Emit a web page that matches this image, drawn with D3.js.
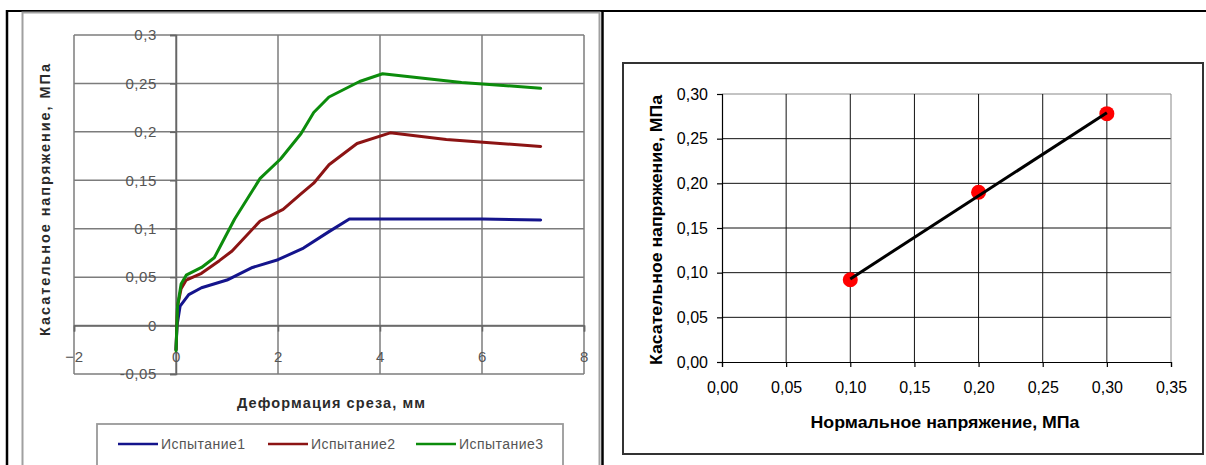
<!DOCTYPE html>
<html lang="ru">
<head>
<meta charset="utf-8">
<title>Испытание на срез</title>
<script src="https://d3js.org/d3.v7.min.js"></script>
<style>
  body { margin: 0; background: #fff; }
  svg { display: block; font-family: "Liberation Sans", Arial, sans-serif; }
</style>
</head>
<body>
<svg id="chart" width="1206" height="465"></svg>
<script>

// left chart: shear stress vs shear deformation, three tests
var test1X = [0, 0.02, 0.08, 0.25, 0.5, 1.0, 1.5, 2.0, 2.5, 3.0, 3.4, 4.0, 5.0, 6.0, 7.15];
var test1Y = [-0.025, 0.0, 0.02, 0.032, 0.039, 0.047, 0.06, 0.068, 0.08, 0.097, 0.11, 0.11, 0.11, 0.11, 0.109];

var test2X = [0, 0.03, 0.1, 0.2, 0.5, 0.85, 1.1, 1.65, 2.1, 2.45, 2.7, 3.0, 3.55, 4.2, 5.3, 7.15];
var test2Y = [-0.025, 0.02, 0.038, 0.047, 0.054, 0.067, 0.077, 0.108, 0.12, 0.136, 0.147, 0.166, 0.188, 0.199, 0.192, 0.185];

var test3X = [0, 0.03, 0.1, 0.2, 0.5, 0.75, 1.0, 1.15, 1.65, 2.05, 2.45, 2.7, 3.0, 3.6, 4.05, 5.6, 7.15];
var test3Y = [-0.026, 0.02, 0.043, 0.052, 0.06, 0.07, 0.095, 0.11, 0.152, 0.172, 0.198, 0.22, 0.236, 0.252, 0.26, 0.251, 0.245];

var seriesNames = ["Испытание1", "Испытание2", "Испытание3"];
var seriesColors = ["#14148c", "#8c1414", "#0c8c0c"];

var leftXTicks = [-2, 0, 2, 4, 6, 8];
var leftYTicks = [-0.05, 0, 0.05, 0.1, 0.15, 0.2, 0.25, 0.3];
var leftYLabels = ["-0,05", "0", "0,05", "0,1", "0,15", "0,2", "0,25", "0,3"];

// right chart: shear stress vs normal stress
var normalStress = [0.1, 0.2, 0.3];
var shearStress = [0.092, 0.19, 0.278];
var trendX = [0.1, 0.3];
var trendY = [0.093, 0.279];

var rightXTicks = [0, 0.05, 0.1, 0.15, 0.2, 0.25, 0.3, 0.35];
var rightYTicks = [0, 0.05, 0.1, 0.15, 0.2, 0.25, 0.3];

var svg = d3.select("#chart");

// ---- frame of the table
svg.append("line").attr("x1", 6).attr("x2", 1206).attr("y1", 11).attr("y2", 11)
  .attr("stroke", "#000").attr("stroke-width", 2);
svg.append("line").attr("x1", 7).attr("x2", 7).attr("y1", 10).attr("y2", 465)
  .attr("stroke", "#000").attr("stroke-width", 2.5);
svg.append("line").attr("x1", 602.5).attr("x2", 602.5).attr("y1", 10).attr("y2", 465)
  .attr("stroke", "#000").attr("stroke-width", 2.5);

// ================= LEFT CHART =================
var L = svg.append("g");

L.append("rect").attr("x", 22.5).attr("y", 12.5).attr("width", 577).attr("height", 470)
  .attr("fill", "none").attr("stroke", "#a0a0a0").attr("stroke-width", 2);

var xL = d3.scaleLinear().domain([-2, 8]).range([74, 584]);
var yL = d3.scaleLinear().domain([-0.05, 0.3]).range([374, 35]);

var gridCol = "#7c7c7c";

// gridlines
L.append("g").selectAll("line").data(leftYTicks).enter().append("line")
  .attr("x1", xL(-2)).attr("x2", xL(8))
  .attr("y1", function(d){ return yL(d) }).attr("y2", function(d){ return yL(d) })
  .attr("stroke", gridCol).attr("stroke-width", 1.5);
L.append("g").selectAll("line").data(leftXTicks).enter().append("line")
  .attr("y1", yL(-0.05)).attr("y2", yL(0.3))
  .attr("x1", function(d){ return xL(d) }).attr("x2", function(d){ return xL(d) })
  .attr("stroke", gridCol).attr("stroke-width", 1.5);

// axes crossing at zero
var yAxisL = L.append("g")
  .attr("transform", "translate(" + xL(0) + ",0)")
  .call(d3.axisLeft(yL).tickValues(leftYTicks)
    .tickFormat(function(d, i){ return leftYLabels[i] })
    .tickSize(6).tickPadding(13));

var xAxisL = L.append("g")
  .attr("transform", "translate(0," + yL(0) + ")")
  .call(d3.axisBottom(xL).tickValues(leftXTicks).tickFormat(d3.format("d"))
    .tickSize(6).tickPadding(20));

[yAxisL, xAxisL].forEach(function(a){
  a.select(".domain").attr("stroke", "#666").attr("stroke-width", 1.5);
  a.selectAll(".tick line").attr("stroke", "#666").attr("stroke-width", 1.5);
  a.selectAll("text").attr("fill", "#555").style("font-size", "15px").style("letter-spacing", "0.6px");
});

// series
var lineL = d3.line()
  .x(function(d){ return xL(d[0]) })
  .y(function(d){ return yL(d[1]) });

var seriesX = [test1X, test2X, test3X];
var seriesY = [test1Y, test2Y, test3Y];

seriesX.forEach(function(xs, k){
  var pts = xs.map(function(v, i){ return [v, seriesY[k][i]] });
  L.append("path").datum(pts)
    .attr("d", lineL)
    .attr("fill", "none")
    .attr("stroke", seriesColors[k])
    .attr("stroke-width", 3)
    .attr("stroke-linejoin", "round")
    .attr("stroke-linecap", "round");
});

// titles
L.append("text")
  .attr("transform", "translate(50,200) rotate(-90)")
  .attr("text-anchor", "middle")
  .attr("fill", "#2a2a2a")
  .style("font-size", "14.5px").style("font-weight", "bold")
  .attr("textLength", 272).attr("lengthAdjust", "spacing")
  .text("Касательное напряжение, МПа");

L.append("text")
  .attr("x", 331).attr("y", 408)
  .attr("text-anchor", "middle")
  .attr("fill", "#2a2a2a")
  .style("font-size", "14.5px").style("font-weight", "bold")
  .attr("textLength", 188).attr("lengthAdjust", "spacing")
  .text("Деформация среза, мм");

// legend
L.append("rect").attr("x", 97).attr("y", 424).attr("width", 466).attr("height", 60)
  .attr("fill", "#fff").attr("stroke", "#999").attr("stroke-width", 1.8);

var legendX = [118, 268, 416];
var leg = L.append("g").selectAll("g").data(seriesNames).enter().append("g")
  .attr("transform", function(d, i){ return "translate(" + legendX[i] + ",444)" });
leg.append("line").attr("x1", 0).attr("x2", 40).attr("y1", 0).attr("y2", 0)
  .attr("stroke", function(d, i){ return seriesColors[i] }).attr("stroke-width", 2.4);
leg.append("text").attr("x", 43).attr("y", 5)
  .attr("fill", "#555").style("font-size", "14px")
  .attr("textLength", 84).attr("lengthAdjust", "spacing")
  .text(function(d){ return d });

// ================= RIGHT CHART =================
var R = svg.append("g");

R.append("rect").attr("x", 623).attr("y", 63).attr("width", 580).attr("height", 391)
  .attr("fill", "#fff").attr("stroke", "#333").attr("stroke-width", 2);

var xR = d3.scaleLinear().domain([0, 0.35]).range([722, 1171]);
var yR = d3.scaleLinear().domain([0, 0.3]).range([362, 94]);

R.append("g").selectAll("line").data(rightYTicks.slice(1)).enter().append("line")
  .attr("x1", xR(0)).attr("x2", xR(0.35))
  .attr("y1", function(d){ return yR(d) }).attr("y2", function(d){ return yR(d) })
  .attr("stroke", function(d){ return d === 0.3 ? "#888" : "#111" }).attr("stroke-width", 1);
R.append("g").selectAll("line").data(rightXTicks.slice(1)).enter().append("line")
  .attr("y1", yR(0)).attr("y2", yR(0.3))
  .attr("x1", function(d){ return xR(d) }).attr("x2", function(d){ return xR(d) })
  .attr("stroke", function(d){ return d === 0.35 ? "#888" : "#111" }).attr("stroke-width", 1);

var commaFmt = function(d){ return d3.format(".2f")(d).replace(".", ",") };

var yAxisR = R.append("g")
  .attr("transform", "translate(" + xR(0) + ",0)")
  .call(d3.axisLeft(yR).tickValues(rightYTicks).tickFormat(commaFmt).tickSize(5).tickPadding(9));
var xAxisR = R.append("g")
  .attr("transform", "translate(0," + yR(0) + ")")
  .call(d3.axisBottom(xR).tickValues(rightXTicks).tickFormat(commaFmt).tickSize(5).tickPadding(15));

[yAxisR, xAxisR].forEach(function(a){
  a.select(".domain").attr("stroke", "#000").attr("stroke-width", 1.2);
  a.selectAll(".tick line").attr("stroke", "#000").attr("stroke-width", 1.2);
  a.selectAll("text").attr("fill", "#000").style("font-size", "16px");
});

// points and trend line
var lineR = d3.line()
  .x(function(d){ return xR(d[0]) })
  .y(function(d){ return yR(d[1]) });

R.append("g").selectAll("circle")
  .data(normalStress.map(function(v, i){ return [v, shearStress[i]] }))
  .enter().append("circle")
  .attr("cx", function(d){ return xR(d[0]) })
  .attr("cy", function(d){ return yR(d[1]) })
  .attr("r", 7.5)
  .attr("fill", "#ff0000");

R.append("path")
  .datum(trendX.map(function(v, i){ return [v, trendY[i]] }))
  .attr("d", lineR)
  .attr("fill", "none").attr("stroke", "#000").attr("stroke-width", 3);

R.append("text")
  .attr("transform", "translate(662,230) rotate(-90)")
  .attr("text-anchor", "middle")
  .attr("fill", "#000")
  .style("font-size", "16.5px").style("font-weight", "bold")
  .attr("textLength", 270).attr("lengthAdjust", "spacingAndGlyphs")
  .text("Касательное напряжение, МПа");

R.append("text")
  .attr("x", 945).attr("y", 428)
  .attr("text-anchor", "middle")
  .attr("fill", "#000")
  .style("font-size", "16.5px").style("font-weight", "bold")
  .attr("textLength", 269).attr("lengthAdjust", "spacingAndGlyphs")
  .text("Нормальное напряжение, МПа");

</script>
</body>
</html>
